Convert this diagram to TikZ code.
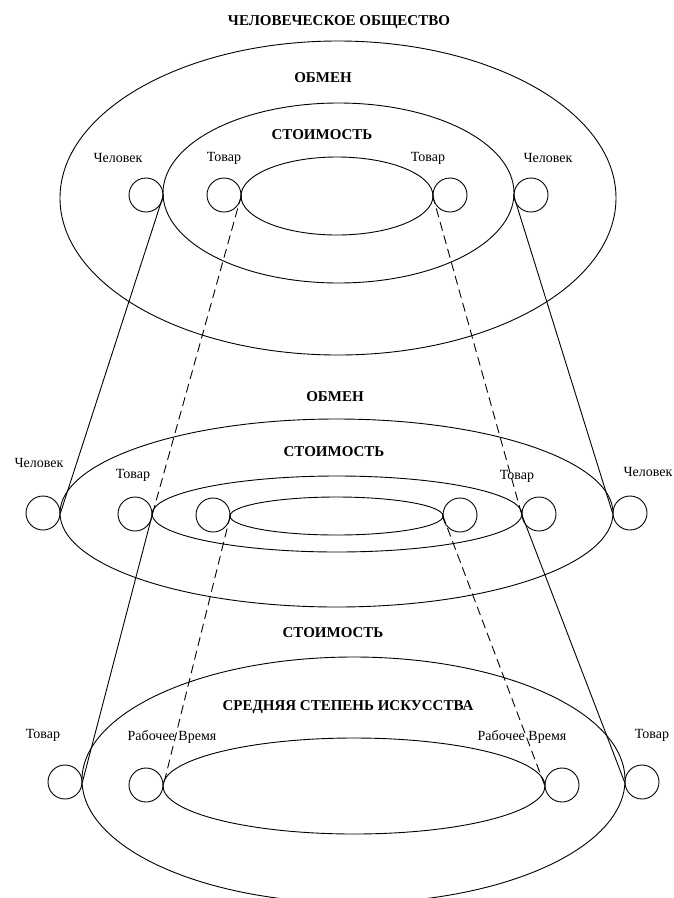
\documentclass[tikz,border=0pt]{standalone}
\usepackage{fontspec}
\setmainfont{Liberation Serif}
\usetikzlibrary{shapes.geometric}
\tikzset{
  ring/.style={draw, ellipse, inner sep=0pt, line width=0.9pt},
  dot/.style={draw, circle, inner sep=0pt, minimum size=34pt, line width=0.9pt},
  lbl/.style={font=\fontsize{14}{16}\selectfont, inner sep=0pt},
  head/.style={font=\fontsize{15}{17}\selectfont\bfseries, inner sep=0pt},
  link/.style={line width=0.9pt},
  dlink/.style={line width=0.9pt, dash pattern=on 9pt off 5pt},
}
\begin{document}
\begin{tikzpicture}[x=1pt, y=-1pt]
\useasboundingbox (0,0) rectangle (673,898);
% ---------- top group ----------
\node[ring, minimum width=556pt, minimum height=314pt] (O1) at (338,198) {};
\node[ring, minimum width=351pt, minimum height=180pt] (M1) at (338.5,193) {};
\node[ring, minimum width=192pt, minimum height=78pt] (I1) at (337,196) {};
\node[dot] (C1L) at (146,195) {};
\node[dot] (T1L) at (224,195) {};
\node[dot] (T1R) at (450,195) {};
\node[dot] (C1R) at (531,195) {};
\node[head] (title) at (339,22) {ЧЕЛОВЕЧЕСКОЕ ОБЩЕСТВО};
\node[head] (ob1) at (323,78) {ОБМЕН};
\node[head] (st1) at (322,135) {СТОИМОСТЬ};
\node[lbl] (lc1l) at (118,158) {Человек};
\node[lbl] (lt1l) at (224,158) {Товар};
\node[lbl] (lt1r) at (428,158) {Товар};
\node[lbl] (lc1r) at (548,158) {Человек};
% ---------- middle group ----------
\node[ring, minimum width=553pt, minimum height=188pt] (O2) at (336.5,513) {};
\node[ring, minimum width=370pt, minimum height=76pt] (M2) at (337,514) {};
\node[ring, minimum width=213pt, minimum height=38pt] (I2) at (336.5,516) {};
\node[dot] (C2L) at (43,513) {};
\node[dot] (T2L) at (135,514) {};
\node[dot] (X2L) at (213,515) {};
\node[dot] (X2R) at (460,515) {};
\node[dot] (T2R) at (539,514) {};
\node[dot] (C2R) at (630,513) {};
\node[head] (ob2) at (335,397) {ОБМЕН};
\node[head] (st2) at (334,452) {СТОИМОСТЬ};
\node[lbl] (lc2l) at (39,463) {Человек};
\node[lbl] (lt2l) at (133,475) {Товар};
\node[lbl] (lt2r) at (517,476) {Товар};
\node[lbl] (lc2r) at (648,472) {Человек};
% ---------- bottom group ----------
\node[ring, minimum width=543pt, minimum height=246pt] (O3) at (353.5,780) {};
\node[ring, minimum width=382pt, minimum height=96pt] (I3) at (354,786) {};
\node[dot] (T3L) at (65,782) {};
\node[dot] (R3L) at (146,785) {};
\node[dot] (R3R) at (562,785) {};
\node[dot] (T3R) at (642,782) {};
\node[head] (st3) at (333,633) {СТОИМОСТЬ};
\node[head] (art) at (348,707) {СРЕДНЯЯ СТЕПЕНЬ ИСКУССТВА};
\node[lbl] (lt3l) at (43,735) {Товар};
\node[lbl] (lr3l) at (172,737) {Рабочее Время};
\node[lbl] (lr3r) at (522,737) {Рабочее Время};
\node[lbl] (lt3r) at (652,735) {Товар};
% ---------- connectors ----------
\draw[link] (C1L.east) -- (C2L.east);
\draw[link] (C1R.west) -- (C2R.west);
\draw[link] (T2L.east) -- (T3L.east);
\draw[link] (T2R.west) -- (T3R.west);
\draw[dlink] (T1L.east) -- (T2L.east);
\draw[dlink] (T1R.west) -- (T2R.west);
\draw[dlink] (X2L.east) -- (R3L.east);
\draw[dlink] (X2R.west) -- (R3R.west);
\end{tikzpicture}
\end{document}
